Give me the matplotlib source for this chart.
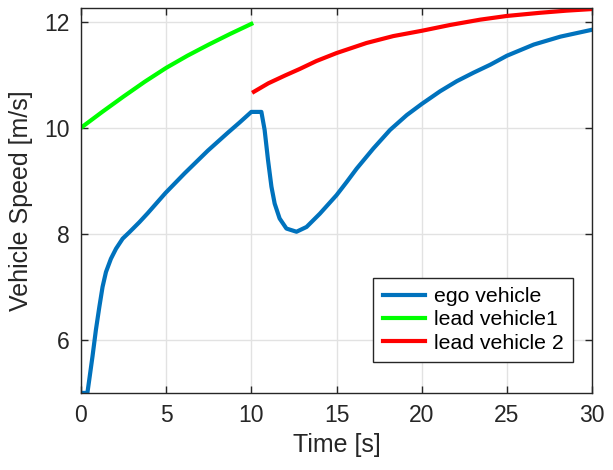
import numpy as np
import matplotlib
matplotlib.use("Agg")
import matplotlib.pyplot as plt

plt.rcParams['font.family'] = ['Liberation Sans', 'DejaVu Sans']

# ego vehicle speed
t_ego = [0.0, 0.38, 0.49, 0.68, 0.88, 1.08, 1.27, 1.47, 1.76, 2.06, 2.45, 2.84,
         3.43, 3.92, 4.96, 6.08, 7.45, 8.63, 9.31, 10.0, 10.59, 10.78, 10.98,
         11.18, 11.37, 11.66, 12.06, 12.65, 13.24, 14.02, 15.0, 15.6, 16.18,
         17.16, 18.14, 19.12, 20.0, 21.08, 22.06, 23.04, 24.02, 25.0, 26.57,
         28.14, 30.0]
v_ego = [5.0, 5.0, 5.25, 5.69, 6.19, 6.62, 7.0, 7.28, 7.53, 7.72, 7.91, 8.03,
         8.22, 8.39, 8.77, 9.14, 9.57, 9.91, 10.10, 10.30, 10.30, 9.96, 9.39,
         8.89, 8.57, 8.29, 8.10, 8.04, 8.13, 8.38, 8.73, 8.98, 9.23,
         9.61, 9.96, 10.24, 10.45, 10.69, 10.88, 11.04, 11.19, 11.36, 11.57,
         11.72, 11.85]

# lead vehicle 1 (0-10 s)
t_lead1 = [0.0, 1.25, 2.5, 3.75, 5.0, 6.25, 7.5, 8.75, 10.0]
v_lead1 = [10.0, 10.3, 10.59, 10.87, 11.13, 11.36, 11.57, 11.77, 11.96]

# lead vehicle 2 (10-30 s)
t_lead2 = [10.15, 11.0, 12.0, 12.84, 13.82, 15.0, 16.76, 18.33, 20.0, 21.67,
           23.43, 25.0, 26.96, 28.5, 30.0]
v_lead2 = [10.68, 10.84, 10.99, 11.11, 11.26, 11.41, 11.6, 11.73, 11.83, 11.94,
           12.04, 12.11, 12.17, 12.21, 12.24]

fig = plt.figure(figsize=(6.13, 4.70), dpi=100)
ax = fig.add_axes([0.132, 0.164, 0.834, 0.819])

lw = 3.0
ax.plot(t_ego, v_ego, color='#0072BD', lw=lw, label='ego vehicle')
ax.plot(t_lead1, v_lead1, color='#00FF00', lw=lw, label='lead vehicle1')
ax.plot(t_lead2, v_lead2, color='#FF0000', lw=lw, label='lead vehicle 2')

ax.set_xlim(0, 30)
ax.set_ylim(5, 12.26)
ax.set_xticks([0, 5, 10, 15, 20, 25, 30])
ax.set_yticks([6, 8, 10, 12])

ax.grid(True, color='#e2e2e2', lw=1)
ax.set_axisbelow(True)
for s in ax.spines.values():
    s.set_color('#262626')
    s.set_linewidth(1)
ax.tick_params(direction='in', length=5, width=1, color='#262626',
               labelcolor='#262626', labelsize=16.5, top=True, right=True, pad=8)

ax.set_xlabel('Time [s]', fontsize=18, color='#262626', labelpad=4)
ax.set_ylabel('Vehicle Speed [m/s]', fontsize=18, color='#262626', labelpad=8)

leg = ax.legend(loc='lower right', bbox_to_anchor=(0.963, 0.08), fontsize=15.3,
                fancybox=False, framealpha=1, edgecolor='#262626',
                handlelength=2.0, borderpad=0.45, labelspacing=0.2,
                handletextpad=0.4, borderaxespad=0)
leg.get_frame().set_linewidth(1)

fig.savefig('out.png', dpi=100)
